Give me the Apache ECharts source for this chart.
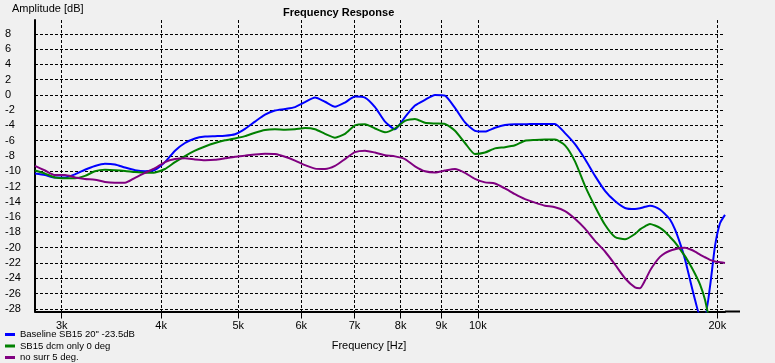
<!DOCTYPE html>
<html><head><meta charset="utf-8">
<script src="https://cdn.jsdelivr.net/npm/echarts@6/dist/echarts.min.js"></script>
<style>html,body{margin:0;padding:0;background:#f0f0f0}#c{width:775px;height:363px}</style>
</head><body><div id="c"></div>
<script>
const freqs = [2777, 2859, 2942, 3029, 3118, 3209, 3303, 3400, 3500, 3603, 3709, 3818, 3930, 4045, 4164, 4286, 4412, 4542, 4675, 4812, 4954, 5099, 5249, 5403, 5561, 5725, 5893, 6066, 6244, 6427, 6616, 6810, 7010, 7216, 7428, 7646, 7870, 8101, 8339, 8584, 8836, 9095, 9362, 9637, 9920, 10212, 10511, 10820, 11138, 11465, 11801, 12148, 12504, 12872, 13249, 13638, 14039, 14451, 14875, 15312, 15762,
  15992, 16224, 16461, 16701, 16944, 17191, 17442, 17696, 17954, 18215, 18481, 18750, 19023, 19301, 19582, 19867, 20157, 20451];

const baseline = [-10.3, -10.5, -10.8, -10.8, -10.4, -9.8, -9.3, -9.0, -9.1, -9.5, -9.85, -10.0, -9.8, -8.8, -7.3, -6.3, -5.7, -5.45, -5.4, -5.35, -5.15, -4.45, -3.5, -2.6, -2.05, -1.85, -1.6, -0.95, -0.35, -0.9, -1.55, -1.0, -0.2, -0.35, -1.6, -3.5, -4.5, -2.9, -1.4, -0.65, 0.0, -0.1, -1.7, -3.6, -4.7, -4.8, -4.3, -3.95, -3.85, -3.85, -3.8, -3.8, -3.8, -5.0, -6.45, -8.4, -10.6, -12.55, -13.9, -14.8, -14.95,
  -14.85, -14.65, -14.5, -14.65, -15.0, -15.6, -16.3, -17.6, -19.4, -21.5, -24.2, -26.8, -28.8, -28.8, -25.1, -19.8, -16.8, -15.7];

const dcmOnly = [-9.9, -10.3, -10.8, -10.9, -10.9, -10.6, -10.0, -9.8, -9.85, -9.95, -10.1, -10.2, -10.15, -9.7, -8.8, -8.0, -7.3, -6.75, -6.3, -5.95, -5.7, -5.4, -4.95, -4.6, -4.5, -4.55, -4.5, -4.35, -4.5, -5.1, -5.6, -5.1, -4.0, -3.85, -4.4, -4.9, -4.4, -3.4, -3.15, -3.65, -3.75, -3.8, -4.7, -6.3, -7.75, -7.55, -7.0, -6.85, -6.6, -6.0, -5.9, -5.85, -5.85, -6.6, -8.7, -11.9, -14.6, -17.0, -18.6, -18.9, -18.2,
  -17.6, -17.2, -16.9, -17.1, -17.4, -17.9, -18.6, -19.3, -20.2, -21.1, -22.2, -23.4, -24.8, -26.8, -30.0, null, null, null];

const noSurr = [-9.3, -9.9, -10.5, -10.5, -10.8, -11.0, -11.1, -11.4, -11.5, -11.5, -10.85, -10.2, -9.6, -8.8, -8.4, -8.3, -8.45, -8.55, -8.5, -8.3, -8.1, -7.95, -7.8, -7.7, -7.75, -8.1, -8.6, -9.2, -9.65, -9.7, -9.3, -8.4, -7.5, -7.3, -7.55, -7.9, -8.05, -8.4, -9.35, -10.0, -10.15, -9.9, -9.7, -10.2, -11.0, -11.45, -11.6, -12.25, -13.0, -13.65, -14.1, -14.5, -14.7, -15.2, -16.2, -17.5, -19.1, -20.5, -22.2, -24.0, -25.2,
  -25.3, -24.3, -23.0, -22.0, -21.2, -20.7, -20.4, -20.2, -20.05, -20.0, -20.2, -20.5, -20.9, -21.25, -21.6, -21.8, -21.9, -22.0];

const seriesNames = ['Baseline SB15 20" -23.5dB', 'SB15 dcm only 0 deg', 'no surr 5 deg.'];
const seriesColors = ['#0000ff', '#008000', '#800080'];
const xTicks = [3000, 4000, 5000, 6000, 7000, 8000, 9000, 10000, 20000];
const yTicks = [-28, -26, -24, -22, -20, -18, -16, -14, -12, -10, -8, -6, -4, -2, 0, 2, 4, 6, 8];

function pairs(vals) {
  const out = [];
  for (let i = 0; i < freqs.length; i++) if (vals[i] !== null) out.push([freqs[i], vals[i]]);
  return out;
}
const allVals = [baseline, dcmOnly, noSurr];

const FONT = 'Liberation Sans';
const chart = echarts.init(document.getElementById('c'), null, {renderer: 'canvas'});
chart.setOption({
  backgroundColor: '#f0f0f0',
  animation: false,
  textStyle: {fontFamily: FONT, color: '#000'},
  title: [
    {text: 'Frequency Response', left: 278, top: 2, textStyle: {fontFamily: FONT, fontSize: 11, fontWeight: 'bold', color: '#000'}},
    {text: 'Amplitude [dB]', left: 7, top: -2, textStyle: {fontFamily: FONT, fontSize: 11, fontWeight: 'normal', color: '#000'}}
  ],
  legend: {
    orient: 'vertical', left: 5, top: 329, padding: 0, itemWidth: 10, itemHeight: 3, itemGap: 0.5,
    icon: 'rect', height: 40,
    textStyle: {fontFamily: FONT, fontSize: 9.5, color: '#000', lineHeight: 11},
    data: seriesNames
  },
  graphic: [
    {type: 'line', shape: {x1: 725, y1: 311.5, x2: 740, y2: 311.5}, style: {stroke: '#000', lineWidth: 2}, silent: true}
  ],
  grid: {left: 35, right: 50, top: 20, bottom: 51.5, containLabel: false},
  xAxis: {
    type: 'log', logBase: 10, min: freqs[0], max: freqs[freqs.length - 1],
    name: 'Frequency [Hz]', nameLocation: 'middle', nameGap: 29,
    nameTextStyle: {fontFamily: FONT, fontSize: 11, color: '#000', padding: [0, 22, 0, 0]},
    axisLine: {show: true, onZero: false, lineStyle: {color: '#000', width: 2}},
    axisTick: {show: true, customValues: xTicks, length: 7, lineStyle: {color: '#000', width: 1}},
    axisLabel: {customValues: xTicks, color: '#000', fontFamily: FONT, fontSize: 11, margin: 9,
      formatter: v => (Math.round(v / 1000)) + 'k'},
    splitLine: {show: true, lineStyle: {color: '#000', width: 1, type: [3, 2]}}
  },
  yAxis: {
    type: 'value', min: -28.35, max: 9.8,
    axisLine: {show: true, onZero: false, lineStyle: {color: '#000', width: 2}},
    axisTick: {show: false, customValues: yTicks},
    axisLabel: {customValues: yTicks, color: '#000', fontFamily: FONT, fontSize: 11, align: 'left', margin: 30},
    splitLine: {show: true, lineStyle: {color: '#000', width: 1, type: [3, 2]}}
  },
  series: seriesNames.map((n, i) => ({
    name: n, type: 'line', data: pairs(allVals[i]), showSymbol: false, smooth: 0.2,
    lineStyle: {color: seriesColors[i], width: 2}, itemStyle: {color: seriesColors[i]}, clip: true
  }))
});
</script></body></html>
